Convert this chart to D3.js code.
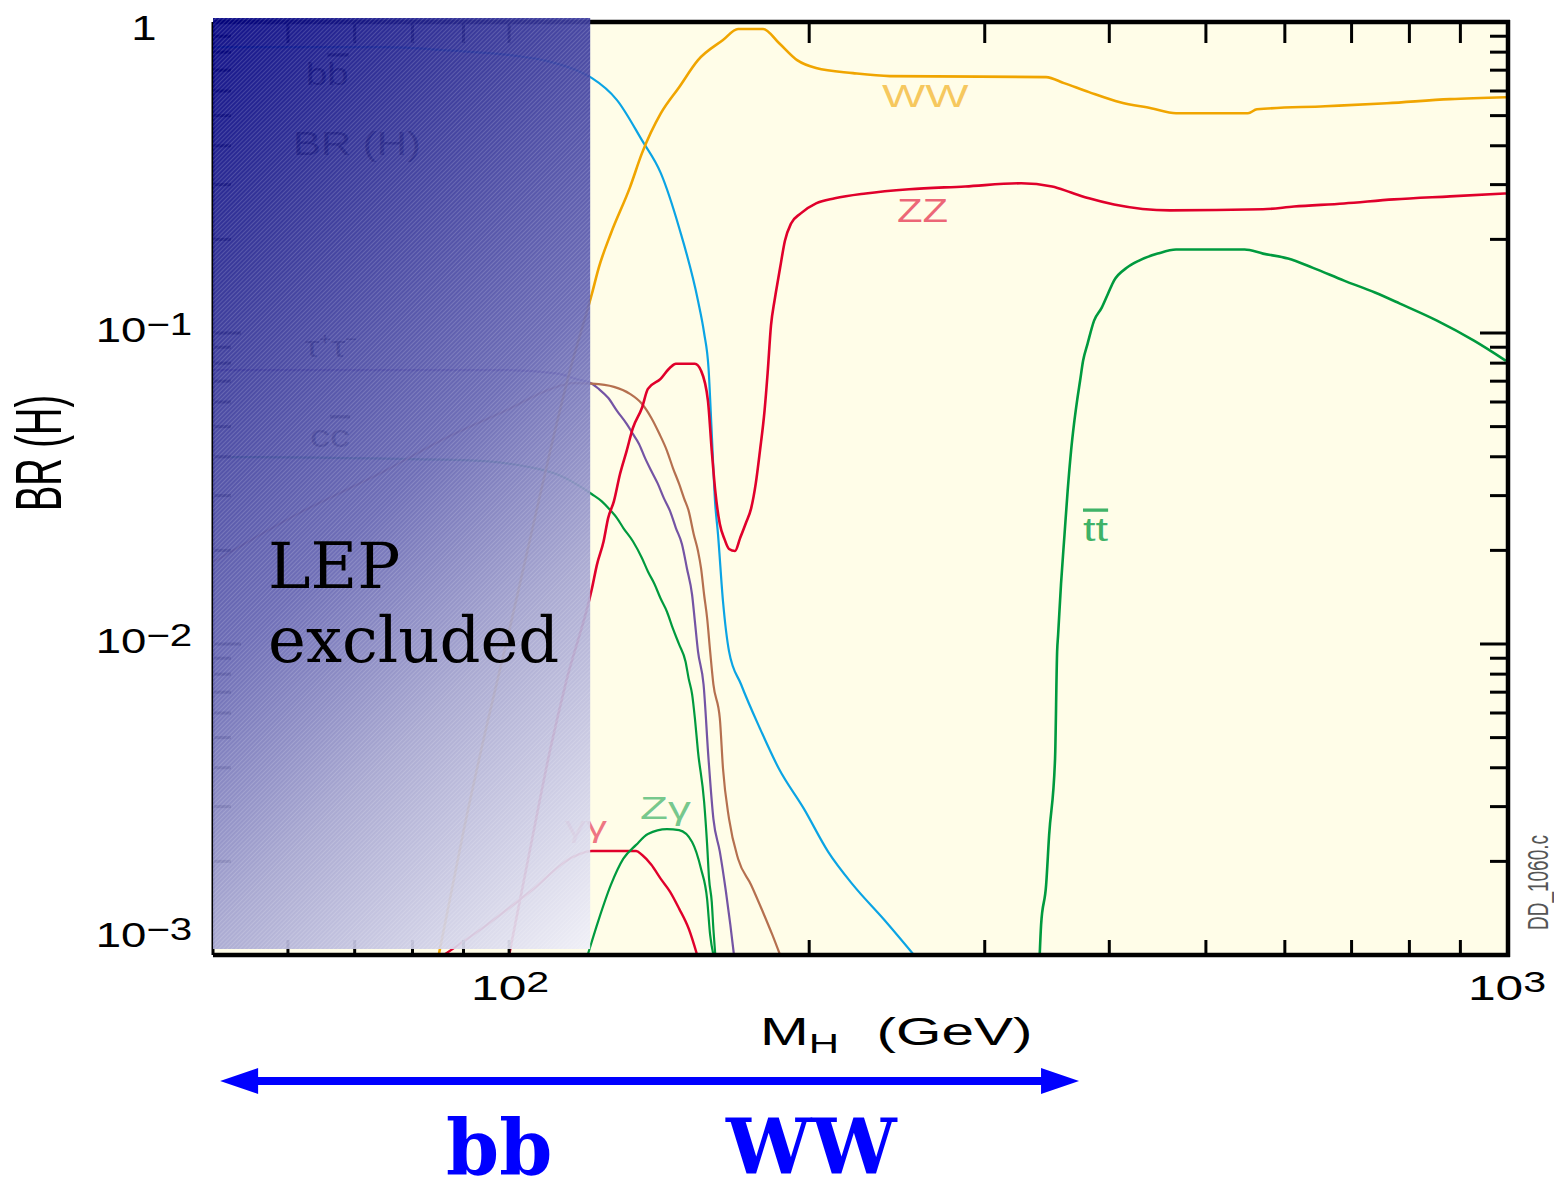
<!DOCTYPE html>
<html>
<head>
<meta charset="utf-8">
<script src="https://cdn.jsdelivr.net/npm/d3@7"></script>
<style>
  html, body { margin: 0; padding: 0; background: #ffffff; }
  svg { display: block; }
</style>
</head>
<body>
<svg id="chart" width="1554" height="1178"></svg>
<script>
// Standard Model Higgs boson decay branching ratios as a function of M_H.
// Each channel is a list of [mass in GeV, branching ratio] pairs.

const bbData = [[50,0.83],[75,0.83],[87,0.81],[101,0.78],[109,0.75],[118,0.69],[121.1,0.66],[128.3,0.561],[135.9,0.417],[142.0,0.326],[148.1,0.218],[154.7,0.127],[156.9,0.1],[158.5,0.0773],[159.7,0.0474],[160.9,0.0288],[162.0,0.0226],[163.9,0.0137],[166.2,0.00947],[170.9,0.00741],[178.5,0.00535],[186.5,0.00397],[197.6,0.00295],[208.9,0.00215],[221.3,0.00168],[237.7,0.0013],[255.4,0.00099]];

const wwData = [[85,0.001],[90,0.0025],[95,0.0055],[100,0.011],[106,0.025],[110,0.042],[115,0.075],[121.1,0.134],[123.0,0.162],[126.5,0.209],[132.2,0.294],[135.9,0.378],[142.0,0.509],[148.1,0.617],[154.7,0.754],[163.9,0.875],[169.7,0.95],[179.8,0.95],[186.5,0.856],[194.5,0.754],[203.2,0.711],[221.3,0.685],[241.0,0.67],[345.7,0.665],[360.3,0.636],[381.7,0.595],[410.1,0.552],[440.5,0.528],[466.7,0.509],[551.0,0.509],[562.6,0.524],[658.4,0.536],[759.5,0.548],[878.6,0.565],[1000,0.573]];

const zzData = [[100,0.001],[105,0.0022],[110,0.0046],[114,0.0075],[121.1,0.0151],[122.5,0.018],[124.4,0.0214],[125.7,0.0254],[127.4,0.0288],[129.2,0.0352],[131.2,0.0418],[133.1,0.0495],[135.9,0.0574],[137.8,0.0661],[141.9,0.0712],[145.0,0.0773],[147.0,0.0796],[153.6,0.0796],[155.8,0.0756],[158.3,0.0605],[159.7,0.0418],[161.0,0.031],[162.7,0.0243],[164.5,0.0217],[166.2,0.0202],[168.5,0.0199],[170.5,0.0219],[172.8,0.0245],[174.9,0.0273],[176.8,0.0329],[178.5,0.0418],[180.4,0.0562],[181.7,0.0745],[183.1,0.1056],[184.6,0.127],[185.1,0.134],[187.0,0.162],[189.1,0.198],[191.8,0.225],[196.0,0.242],[203.2,0.261],[212.2,0.271],[227.9,0.281],[251.9,0.29],[286.7,0.296],[326.3,0.303],[350.5,0.296],[366.2,0.283],[381.7,0.271],[404.4,0.259],[460.3,0.248],[570.5,0.25],[612.8,0.255],[687.9,0.261],[771.9,0.269],[878.6,0.275],[1000,0.281]];

const ttData = [[340.6,0.001],[341.7,0.00125],[345.7,0.00168],[348.1,0.00243],[352.9,0.00428],[354.6,0.00947],[355.4,0.0107],[357.8,0.0156],[360.7,0.0225],[363.3,0.031],[366.2,0.0418],[368.7,0.051],[371.3,0.0605],[373.9,0.0702],[376.5,0.0814],[380.4,0.0923],[386.2,0.1096],[393.1,0.1207],[398.9,0.134],[404.4,0.1474],[416.4,0.162],[428.5,0.171],[447.3,0.18],[466.7,0.1856],[546.7,0.1856],[570.5,0.18],[604.4,0.1736],[640.3,0.162],[687.9,0.1474],[738.8,0.1349],[782.7,0.1243],[852.6,0.1096],[928.7,0.0945],[1000,0.0814]];

const ggData = [[50,0.018],[61.5,0.0263],[75,0.036],[86.9,0.0464],[100,0.057],[110,0.066],[116,0.069],[121.1,0.0687],[127.4,0.0671],[132.2,0.0637],[135.9,0.0592],[138.9,0.0533],[141.5,0.0474],[144.0,0.0418],[146.0,0.0368],[148.1,0.0327],[149.8,0.0294],[151.4,0.0268],[153.2,0.0225],[154.7,0.0199],[155.8,0.0175],[156.9,0.0144],[158.0,0.0121],[159.1,0.00947],[160.3,0.00741],[162.7,0.00576],[163.9,0.00397],[166.2,0.00274],[169.7,0.00204],[174.9,0.00168],[179.8,0.00137],[183.7,0.00116],[187.0,0.001]];

const tauData = [[50,0.076],[80,0.076],[100,0.076],[112,0.074],[117,0.071],[121.1,0.0687],[123.0,0.0661],[125.7,0.0619],[128.3,0.0562],[131.2,0.051],[133.1,0.0474],[135.0,0.044],[136.9,0.0396],[138.9,0.036],[140.9,0.0329],[143.0,0.0294],[145.0,0.0268],[147.0,0.0236],[149.1,0.0209],[150.8,0.0175],[152.6,0.0144],[153.6,0.0118],[154.7,0.00947],[156.7,0.00741],[158.5,0.00428],[160.3,0.00274],[162.7,0.00215],[165.0,0.0016],[166.7,0.00125],[168.1,0.001]];

const ccData = [[50,0.04],[90,0.039],[105,0.037],[112,0.035],[121.1,0.0303],[123.8,0.0288],[126.5,0.0268],[128.3,0.0254],[130.2,0.0236],[133.1,0.0214],[135.9,0.0189],[137.8,0.0171],[139.9,0.0156],[141.9,0.014],[144.0,0.0127],[146.0,0.0112],[148.1,0.00997],[150.3,0.00879],[151.4,0.00774],[152.6,0.0069],[153.6,0.00576],[154.7,0.00451],[156.9,0.00311],[158.0,0.00226],[158.7,0.00176],[159.7,0.00148],[160.3,0.00121],[161.0,0.001]];

const gammaGammaData = [[86,0.001],[95,0.00125],[105,0.0016],[116,0.00207],[121.1,0.00216],[134.1,0.00216],[135.9,0.0021],[138.9,0.00195],[141.9,0.00176],[145.0,0.0016],[148.1,0.00141],[151.5,0.00121],[154.4,0.001]];

const zGammaData = [[119.9,0.001],[123.0,0.0013],[126.5,0.00168],[130.2,0.00204],[134.1,0.00226],[137.8,0.00245],[144.0,0.00254],[148.1,0.00252],[152.6,0.00231],[155.8,0.00189],[158.0,0.00151],[159.1,0.00116],[160.3,0.001]];

// Axis labelling
const yLabelValues = [1, 0.1, 0.01, 0.001];
const yLabelExponents = ["", "\u22121", "\u22122", "\u22123"];
const xLabelValues = [100, 1000];
const xLabelExponents = ["2", "3"];

// Mass ranges for the annotations
const lepExcludedMax = 120.6;        // upper edge of the shaded band
const arrowMassRange = [51.3, 373];  // extent of the bb -> WW arrow

// ---------------------------------------------------------------------------
const frame = { left: 213, right: 1508, top: 22, bottom: 955 };
const x = d3.scaleLog().domain([50, 1000]).range([209, 1506]);
const y = d3.scaleLog().domain([0.001, 1]).range([955, 22]);

const series = [
  { data: bbData,         color: "#0ba4e4", width: 2.2 },
  { data: ccData,         color: "#009a3e", width: 2.2 },
  { data: tauData,        color: "#7454a4", width: 2.2 },
  { data: ggData,         color: "#b5704f", width: 2.2 },
  { data: gammaGammaData, color: "#e0002b", width: 2.4 },
  { data: zGammaData,     color: "#009a3e", width: 2.2 },
  { data: ttData,         color: "#009a3e", width: 2.6 },
  { data: zzData,         color: "#e0002b", width: 2.6 },
  { data: wwData,         color: "#f0a500", width: 2.6 }
];

const sans = "'Liberation Sans', Arial, Helvetica, sans-serif";
const serif = "'DejaVu Serif', serif";

const svg = d3.select("#chart");
const defs = svg.append("defs");

defs.append("clipPath").attr("id", "plotClip").append("rect")
  .attr("x", frame.left).attr("y", frame.top)
  .attr("width", frame.right - frame.left).attr("height", frame.bottom - frame.top);

// shading for the LEP-excluded band: diagonal gradient plus fine hatching
const lepX0 = frame.left, lepX1 = x(lepExcludedMax);
const lepY0 = frame.top - 4, lepY1 = frame.bottom - 6;
const gradLen = ((lepX1 - lepX0) + (lepY1 - lepY0)) / 2;
const grad = defs.append("linearGradient").attr("id", "lepGrad")
  .attr("gradientUnits", "userSpaceOnUse")
  .attr("x1", lepX0).attr("y1", lepY0)
  .attr("x2", lepX0 + gradLen).attr("y2", lepY0 + gradLen);
[[0, "#010183"], [0.2, "#2a2a94"], [0.5, "#6464b3"], [0.7, "#a4a4d0"], [1, "#efeff8"]]
  .forEach(([o, c]) => grad.append("stop").attr("offset", o).attr("stop-color", c).attr("stop-opacity", 0.93));

const hatch = defs.append("pattern").attr("id", "lepHatch")
  .attr("patternUnits", "userSpaceOnUse").attr("width", 3).attr("height", 3)
  .attr("patternTransform", "rotate(45)");
hatch.append("line").attr("x1", 0.5).attr("y1", 0).attr("x2", 0.5).attr("y2", 3)
  .attr("stroke", "#ffffff").attr("stroke-width", 1).attr("stroke-opacity", 0.16);

// plot area
svg.append("rect")
  .attr("x", frame.left).attr("y", frame.top)
  .attr("width", frame.right - frame.left).attr("height", frame.bottom - frame.top)
  .attr("fill", "#fffde8");

// helper for horizontally stretched text
function stretched(parent, tx, ty, sx, size, family, anchor) {
  const g = parent.append("g").attr("transform", `translate(${tx},${ty}) scale(${sx},1)`);
  return g.append("text").attr("x", 0).attr("y", 0)
    .attr("font-family", family).attr("font-size", size)
    .attr("text-anchor", anchor || "start");
}

// labels that sit inside the low-mass part of the frame
const inner = svg.append("g");
stretched(inner, 357, 155, 1.27, 33, sans, "middle").attr("fill", "#000").text("BR (H)");
stretched(inner, 306, 85, 1.2, 32, sans).attr("fill", "#000")
  .call(t => { t.append("tspan").text("b"); t.append("tspan").attr("text-decoration", "overline").text("b"); });
stretched(inner, 305, 357, 1.2, 30, sans).attr("fill", "#000").text("\u03c4\u207a\u03c4\u207b");
stretched(inner, 310, 447, 1.25, 32, sans).attr("fill", "#000")
  .call(t => { t.append("tspan").text("c"); t.append("tspan").attr("text-decoration", "overline").text("c"); });
stretched(inner, 565, 837, 1.4, 30, sans).attr("fill", "#e0002b").attr("fill-opacity", 0.55).text("\u03b3\u03b3");

// curves
const line = d3.line().x(d => x(d[0])).y(d => y(d[1])).curve(d3.curveMonotoneX);
const curves = svg.append("g").attr("clip-path", "url(#plotClip)");
series.forEach(s => {
  curves.append("path").attr("d", line(s.data))
    .attr("fill", "none").attr("stroke", s.color)
    .attr("stroke-width", s.width).attr("stroke-linejoin", "round");
});

// channel labels
const labels = svg.append("g");
stretched(labels, 882, 107, 1.48, 31, sans).attr("fill", "#f0a500").attr("fill-opacity", 0.6).text("WW");
stretched(labels, 897, 222, 1.27, 33, sans).attr("fill", "#e0002b").attr("fill-opacity", 0.6).text("ZZ");
stretched(labels, 1083, 541, 1.37, 33, sans).attr("fill", "#009a3e").attr("fill-opacity", 0.75)
  .attr("text-decoration", "overline").text("tt");
stretched(labels, 640, 819, 1.43, 32, sans).attr("fill", "#009a3e").attr("fill-opacity", 0.55).text("Z\u03b3");

// frame ticks and lines
const axes = svg.append("g").attr("stroke", "#000");
const xMinor = x.ticks().filter(v => v > 50 && v < 1000);
const yAll = y.ticks().filter(v => v > 0.001 && v < 1);
const isDecade = v => Math.abs(Math.log10(v) - Math.round(Math.log10(v))) < 1e-9;

axes.selectAll(".tt").data(xMinor).join("line")
  .attr("x1", d => x(d)).attr("x2", d => x(d))
  .attr("y1", frame.top).attr("y2", frame.top + 21).attr("stroke-width", 3);
axes.selectAll(".tb").data(xMinor).join("line")
  .attr("x1", d => x(d)).attr("x2", d => x(d))
  .attr("y1", frame.bottom).attr("y2", frame.bottom - 15).attr("stroke-width", 3);
axes.selectAll(".tr").data(yAll).join("line")
  .attr("x1", frame.right).attr("x2", d => frame.right - (isDecade(d) ? 28 : 18))
  .attr("y1", d => y(d)).attr("y2", d => y(d)).attr("stroke-width", 3);
axes.selectAll(".tl").data(yAll).join("line")
  .attr("x1", frame.left).attr("x2", d => frame.left + (isDecade(d) ? 28 : 18))
  .attr("y1", d => y(d)).attr("y2", d => y(d)).attr("stroke-width", 3);

axes.append("line").attr("x1", frame.left).attr("x2", frame.right + 2)
  .attr("y1", frame.top).attr("y2", frame.top).attr("stroke-width", 4.5);
axes.append("line").attr("x1", frame.right).attr("x2", frame.right)
  .attr("y1", frame.top - 2).attr("y2", frame.bottom + 2).attr("stroke-width", 4.5);
axes.append("line").attr("x1", frame.left).attr("x2", frame.left)
  .attr("y1", frame.top).attr("y2", frame.bottom).attr("stroke-width", 3);

// LEP excluded band
svg.append("rect").attr("x", lepX0).attr("y", lepY0)
  .attr("width", lepX1 - lepX0).attr("height", lepY1 - lepY0).attr("fill", "url(#lepGrad)");
svg.append("rect").attr("x", lepX0).attr("y", lepY0)
  .attr("width", lepX1 - lepX0).attr("height", lepY1 - lepY0).attr("fill", "url(#lepHatch)");

// bottom axis line stays on top
svg.append("line").attr("x1", frame.left).attr("x2", frame.right + 2)
  .attr("y1", frame.bottom).attr("y2", frame.bottom)
  .attr("stroke", "#000").attr("stroke-width", 4.5);

svg.append("text").attr("font-family", serif).attr("font-size", 64).attr("fill", "#000")
  .call(t => {
    t.append("tspan").attr("x", 268).attr("y", 588).text("LEP");
    t.append("tspan").attr("x", 268).attr("y", 662).text("excluded");
  });

// y tick labels
const tickLabels = svg.append("g").attr("fill", "#000");
yLabelValues.forEach((v, i) => {
  const base = yLabelExponents[i] === "" ? "1" : "10";
  const ty = Math.min(Math.max(y(v) + 9, 40), 947);
  const t = stretched(tickLabels, 144, ty, 1.3, 35, sans, "middle");
  t.append("tspan").text(base);
  if (yLabelExponents[i]) t.append("tspan").attr("dy", -7).attr("font-size", 31).text(yLabelExponents[i]);
});

// x tick labels
xLabelValues.forEach((v, i) => {
  const t = stretched(tickLabels, x(v) + 1, 1000, 1.42, 35, sans, "middle");
  t.append("tspan").text("10");
  t.append("tspan").attr("dy", -8).attr("font-size", 29).text(xLabelExponents[i]);
});

// axis titles
const xt = stretched(svg, 760, 1045, 1.5, 39, sans);
xt.attr("fill", "#000");
xt.append("tspan").text("M");
xt.append("tspan").attr("dy", 8).attr("font-size", 28).text("H");
xt.append("tspan").attr("dy", -8).attr("dx", 25).text("(GeV)");

svg.append("g").attr("transform", "translate(38,453) scale(1.7,1) rotate(-90)")
  .append("text").attr("x", 0).attr("y", 13.5)
  .attr("font-family", sans).attr("font-size", 38).attr("text-anchor", "middle")
  .attr("fill", "#000").text("BR (H)");

svg.append("g").attr("transform", "translate(1548,930) scale(1.6,1) rotate(-90)")
  .append("text").attr("x", 0).attr("y", 0)
  .attr("font-family", sans).attr("font-size", 19).attr("fill", "#555")
  .text("DD_1060.c");

// dominant decay mode arrow
const ax0 = x(arrowMassRange[0]), ax1 = x(arrowMassRange[1]);
const ay = 1081, head = 38, half = 13, shaft = 4;
const arrow = d3.path();
arrow.moveTo(ax0, ay);
arrow.lineTo(ax0 + head, ay - half);
arrow.lineTo(ax0 + head, ay - shaft);
arrow.lineTo(ax1 - head, ay - shaft);
arrow.lineTo(ax1 - head, ay - half);
arrow.lineTo(ax1, ay);
arrow.lineTo(ax1 - head, ay + half);
arrow.lineTo(ax1 - head, ay + shaft);
arrow.lineTo(ax0 + head, ay + shaft);
arrow.lineTo(ax0 + head, ay + half);
arrow.closePath();
svg.append("path").attr("d", arrow.toString()).attr("fill", "#0000ff");

svg.append("text").attr("x", 446).attr("y", 1174)
  .attr("font-family", serif).attr("font-weight", "bold").attr("font-size", 76)
  .attr("fill", "#0000ff").text("bb");
svg.append("text").attr("x", 726).attr("y", 1174)
  .attr("font-family", serif).attr("font-weight", "bold").attr("font-size", 76)
  .attr("fill", "#0000ff").text("WW");
</script>
</body>
</html>
